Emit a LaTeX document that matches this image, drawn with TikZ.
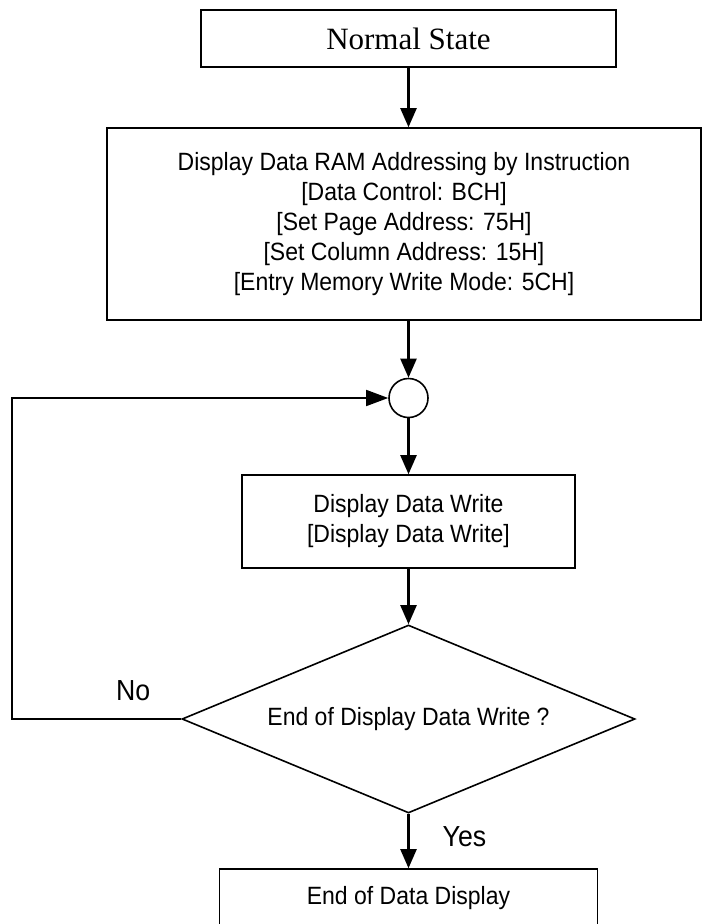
\documentclass[tikz,border=0pt]{standalone}
\usepackage{fontspec}
\setmainfont{Liberation Serif}
\newfontfamily\flowfont[FakeStretch=0.92]{Liberation Sans}
\usetikzlibrary{shapes.geometric,arrows.meta,positioning}

\begin{document}
\begin{tikzpicture}[on grid,
   block/.style={draw,rectangle,line width=1.6pt,inner sep=0pt,align=center,
                 font=\flowfont\fontsize{25}{30}\selectfont},
   decision/.style={draw,diamond,aspect=2.4,line width=1.6pt,inner sep=0pt,
                 minimum width=453pt,minimum height=188pt,
                 font=\flowfont\fontsize{25}{28}\selectfont},
   joint/.style={draw,circle,line width=1.6pt,minimum size=39pt,inner sep=0pt},
   flow/.style={line width=2.3pt,-{Triangle[length=19pt,width=16pt]}},
   back/.style={line width=1.6pt,-{Triangle[length=22pt,width=16pt]}},
   lbl/.style={font=\flowfont\fontsize{29}{30}\selectfont}]
   \useasboundingbox (0,0) rectangle (702pt,-924pt);
   \node[block,minimum width=415pt,minimum height=57pt,
         font=\fontsize{31}{36}\selectfont] (normal) at (408.5pt,-38.5pt) {Normal State};
   \node[block,minimum width=594pt,minimum height=192pt,xshift=-4.5pt]
         (ram) [below=185.5pt of normal]
         {Display Data RAM Addressing by Instruction\\
          {[Data Control: BCH]}\\
          {[Set Page Address: 75H]}\\
          {[Set Column Address: 15H]}\\
          {[Entry Memory Write Mode: 5CH]}};
   \node[joint] (join) [below=359.5pt of normal] {};
   \node[block,minimum width=333pt,minimum height=93pt]
         (write) [below=123.5pt of join] {Display Data Write\\ {[Display Data Write]}};
   \node[decision] (dec) [below=197.5pt of write] {End of Display Data Write ?};
   \node[block,minimum width=378pt,minimum height=58pt]
         (finish) [below=179pt of dec] {End of Data Display};
   \node[lbl] (no) [above left=28pt and 48pt of dec.west,anchor=center] {No};
   \node[lbl] (yes) [below right=23pt and 56pt of dec.south,anchor=center] {Yes};
   \coordinate (corner) at (12pt,-398pt);
    \path[flow]
    (normal) edge (ram.north -| normal)
    (ram.south -| join) edge (join)
    (join) edge (write)
    (write) edge (dec)
    (dec) edge (finish);
    \draw[back] (dec.west) -| (corner) -- (join);
\end{tikzpicture}
\end{document}
